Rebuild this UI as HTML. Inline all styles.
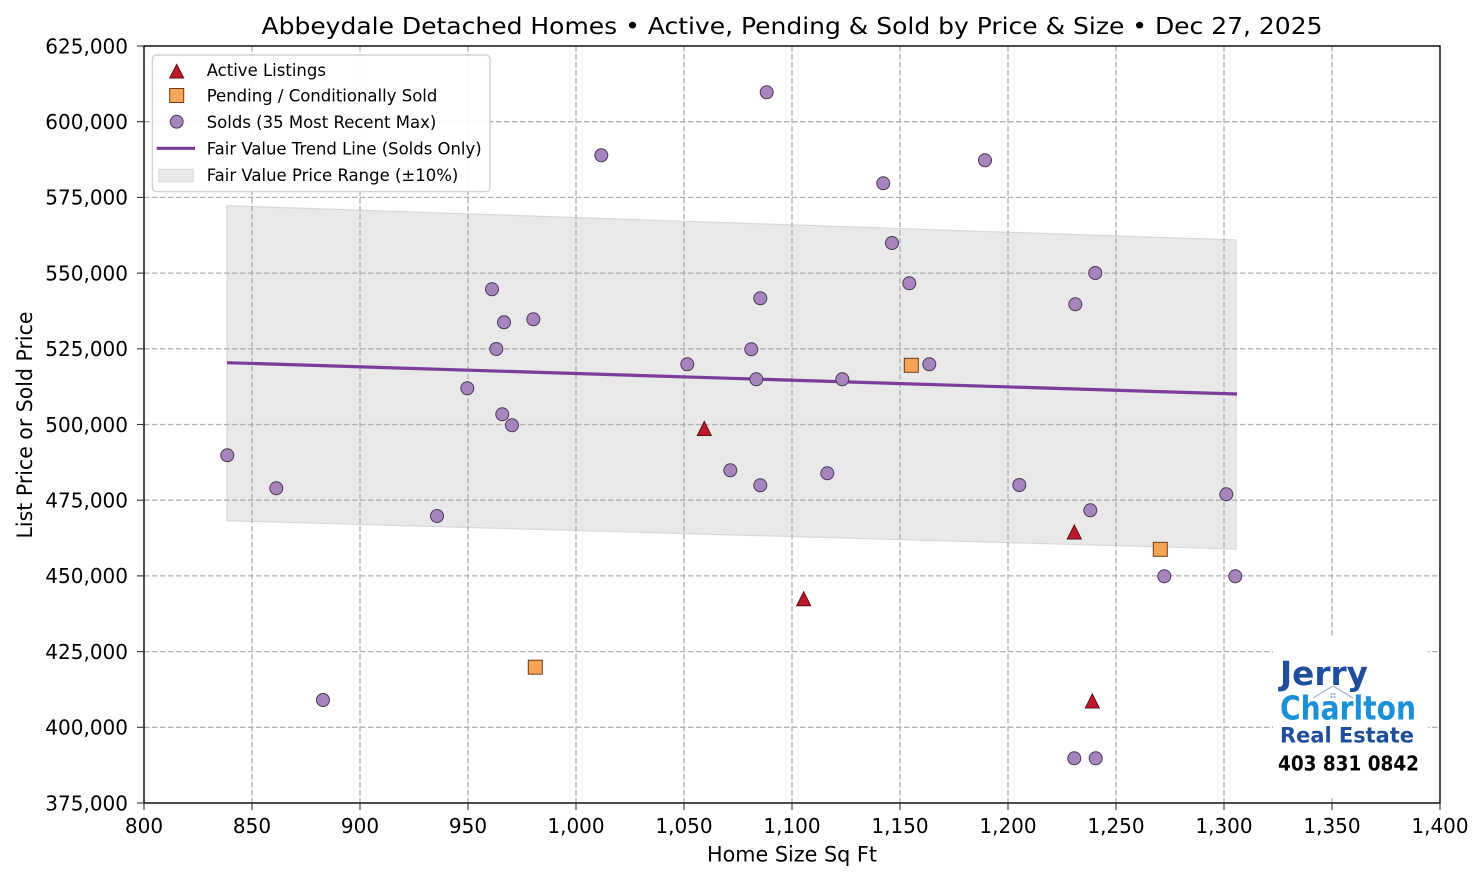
<!DOCTYPE html>
<html><head><meta charset="utf-8"><style>
html,body{margin:0;padding:0;background:#fff;}
svg{display:block;}
text{font-family:"DejaVu Sans","Liberation Sans",sans-serif;}
</style></head><body>
<svg width="1484" height="881" viewBox="0 0 1484 881" xmlns="http://www.w3.org/2000/svg">
<rect x="0" y="0" width="1484" height="881" fill="#fff"/>
<!-- title -->
<text x="792" y="34" font-size="23.5" text-anchor="middle" fill="#000" textLength="1061" lengthAdjust="spacingAndGlyphs">Abbeydale Detached Homes • Active, Pending &amp; Sold by Price &amp; Size • Dec 27, 2025</text>

<!-- band -->
<polygon points="227,205.7 1236,240 1236,549 227,520.7" fill="#e9e9e9" stroke="#d8d8d8" stroke-width="1.2"/>

<!-- grid -->
<g stroke="#b0b0b0" stroke-width="1.3" stroke-dasharray="5.5,2.5" fill="none">
<line x1="252" y1="46" x2="252" y2="803"/>
<line x1="360" y1="46" x2="360" y2="803"/>
<line x1="468" y1="46" x2="468" y2="803"/>
<line x1="576" y1="46" x2="576" y2="803"/>
<line x1="684" y1="46" x2="684" y2="803"/>
<line x1="792" y1="46" x2="792" y2="803"/>
<line x1="900" y1="46" x2="900" y2="803"/>
<line x1="1008" y1="46" x2="1008" y2="803"/>
<line x1="1116" y1="46" x2="1116" y2="803"/>
<line x1="1224" y1="46" x2="1224" y2="803"/>
<line x1="1332" y1="46" x2="1332" y2="803"/>
<line x1="144" y1="121.7" x2="1440" y2="121.7"/>
<line x1="144" y1="197.4" x2="1440" y2="197.4"/>
<line x1="144" y1="273.1" x2="1440" y2="273.1"/>
<line x1="144" y1="348.8" x2="1440" y2="348.8"/>
<line x1="144" y1="424.5" x2="1440" y2="424.5"/>
<line x1="144" y1="500.2" x2="1440" y2="500.2"/>
<line x1="144" y1="575.9" x2="1440" y2="575.9"/>
<line x1="144" y1="651.6" x2="1440" y2="651.6"/>
<line x1="144" y1="727.3" x2="1440" y2="727.3"/>
</g>

<!-- trend line -->
<line x1="227" y1="362.7" x2="1237" y2="394" stroke="#7b3d99" stroke-width="3.2"/>

<!-- solds -->
<g fill="#a684bd" stroke="#4b3a55" stroke-width="1">
<circle cx="227.3" cy="455.3" r="6.5"/>
<circle cx="276.3" cy="488.3" r="6.5"/>
<circle cx="323" cy="700" r="6.5"/>
<circle cx="437" cy="516" r="6.5"/>
<circle cx="467.3" cy="388.3" r="6.5"/>
<circle cx="492" cy="289.3" r="6.5"/>
<circle cx="496.3" cy="349" r="6.5"/>
<circle cx="502.3" cy="414.3" r="6.5"/>
<circle cx="504" cy="322.3" r="6.5"/>
<circle cx="512" cy="425.3" r="6.5"/>
<circle cx="533.3" cy="319.3" r="6.5"/>
<circle cx="601.3" cy="155.3" r="6.5"/>
<circle cx="687.3" cy="364.3" r="6.5"/>
<circle cx="730.3" cy="470.3" r="6.5"/>
<circle cx="751.3" cy="349.3" r="6.5"/>
<circle cx="756.3" cy="379.3" r="6.5"/>
<circle cx="760.3" cy="298.3" r="6.5"/>
<circle cx="760.3" cy="485.3" r="6.5"/>
<circle cx="766.7" cy="92.3" r="6.5"/>
<circle cx="827.3" cy="473.3" r="6.5"/>
<circle cx="842.3" cy="379.3" r="6.5"/>
<circle cx="883.3" cy="183.3" r="6.5"/>
<circle cx="892" cy="243" r="6.5"/>
<circle cx="909.3" cy="283.3" r="6.5"/>
<circle cx="929.3" cy="364.3" r="6.5"/>
<circle cx="985" cy="160.3" r="6.5"/>
<circle cx="1019.3" cy="485" r="6.5"/>
<circle cx="1075.3" cy="304.3" r="6.5"/>
<circle cx="1095.3" cy="273" r="6.5"/>
<circle cx="1090.3" cy="510.3" r="6.5"/>
<circle cx="1074.3" cy="758.3" r="6.5"/>
<circle cx="1095.7" cy="758.3" r="6.5"/>
<circle cx="1164.3" cy="576.3" r="6.5"/>
<circle cx="1226.3" cy="494.3" r="6.5"/>
<circle cx="1235.3" cy="576.3" r="6.5"/>
</g>

<!-- pending -->
<g fill="#f6a556" stroke="#6b3d14" stroke-width="1">
<rect x="528.3" y="660.2" width="14" height="14"/>
<rect x="904.3" y="358.3" width="14" height="14"/>
<rect x="1153.3" y="542.3" width="14" height="14"/>
</g>

<!-- active -->
<g fill="#c0182b" stroke="#5a0f16" stroke-width="1">
<polygon points="704.3,421.5 711.3,435.5 697.3,435.5"/>
<polygon points="803.7,591.7 810.7,605.7 796.7,605.7"/>
<polygon points="1074.3,525 1081.3,539 1067.3,539"/>
<polygon points="1092.3,694 1099.3,708 1085.3,708"/>
</g>

<!-- logo -->
<rect x="1273" y="637" width="155" height="160" fill="#fff"/>
<text x="1280" y="685" font-family="Liberation Sans, sans-serif" font-weight="bold" font-size="33" fill="#1f4e9c" textLength="88" lengthAdjust="spacingAndGlyphs">Jerry</text>
<text x="1280" y="719.3" font-family="Liberation Sans, sans-serif" font-weight="bold" font-size="33" fill="#1b90d6" textLength="136" lengthAdjust="spacingAndGlyphs">Charlton</text>
<polyline points="1313,698 1333,686 1353,698" fill="none" stroke="#a0b8d0" stroke-width="1.2"/>
<rect x="1330.5" y="693" width="2" height="2" fill="#a0b8d0"/><rect x="1333.5" y="693" width="2" height="2" fill="#a0b8d0"/>
<rect x="1330.5" y="696" width="2" height="2" fill="#a0b8d0"/><rect x="1333.5" y="696" width="2" height="2" fill="#a0b8d0"/>
<text x="1280" y="742.7" font-family="Liberation Sans, sans-serif" font-weight="bold" font-size="21.5" fill="#1f4e9c" textLength="134" lengthAdjust="spacingAndGlyphs">Real Estate</text>
<text x="1278" y="770.7" font-family="Liberation Sans, sans-serif" font-weight="bold" font-size="20.5" fill="#000" textLength="141" lengthAdjust="spacingAndGlyphs">403 831 0842</text>

<!-- legend -->
<rect x="152.3" y="55" width="337.7" height="136.7" rx="4" ry="4" fill="#fff" fill-opacity="0.9" stroke="#cccccc" stroke-width="1.2"/>
<polygon points="176.7,64.5 183.7,78 169.7,78" fill="#c0182b" stroke="#5a0f16" stroke-width="1"/>
<rect x="169.7" y="88.5" width="14" height="14" fill="#f6a556" stroke="#6b3d14" stroke-width="1"/>
<circle cx="176.7" cy="121.7" r="6.4" fill="#a684bd" stroke="#4b3a55" stroke-width="1"/>
<line x1="156.7" y1="148.3" x2="195" y2="148.3" stroke="#7b3d99" stroke-width="3.2"/>
<rect x="159" y="169.3" width="34.3" height="12.4" fill="#e9e9e9" stroke="#d8d8d8" stroke-width="1"/>
<g font-size="16.5" fill="#000">
<text x="206.7" y="76">Active Listings</text>
<text x="206.7" y="101.5">Pending / Conditionally Sold</text>
<text x="206.7" y="128">Solds (35 Most Recent Max)</text>
<text x="206.7" y="154.3" textLength="275" lengthAdjust="spacingAndGlyphs">Fair Value Trend Line (Solds Only)</text>
<text x="206.7" y="181">Fair Value Price Range (±10%)</text>
</g>

<!-- spines -->
<rect x="144" y="46" width="1296" height="757" fill="none" stroke="#000" stroke-width="1.4"/>

<!-- ticks -->
<g stroke="#333" stroke-width="1.1">
<line x1="144" y1="803" x2="144" y2="810"/>
<line x1="252" y1="803" x2="252" y2="810"/>
<line x1="360" y1="803" x2="360" y2="810"/>
<line x1="468" y1="803" x2="468" y2="810"/>
<line x1="576" y1="803" x2="576" y2="810"/>
<line x1="684" y1="803" x2="684" y2="810"/>
<line x1="792" y1="803" x2="792" y2="810"/>
<line x1="900" y1="803" x2="900" y2="810"/>
<line x1="1008" y1="803" x2="1008" y2="810"/>
<line x1="1116" y1="803" x2="1116" y2="810"/>
<line x1="1224" y1="803" x2="1224" y2="810"/>
<line x1="1332" y1="803" x2="1332" y2="810"/>
<line x1="1440" y1="803" x2="1440" y2="810"/>
<line x1="137" y1="46" x2="144" y2="46"/>
<line x1="137" y1="121.7" x2="144" y2="121.7"/>
<line x1="137" y1="197.4" x2="144" y2="197.4"/>
<line x1="137" y1="273.1" x2="144" y2="273.1"/>
<line x1="137" y1="348.8" x2="144" y2="348.8"/>
<line x1="137" y1="424.5" x2="144" y2="424.5"/>
<line x1="137" y1="500.2" x2="144" y2="500.2"/>
<line x1="137" y1="575.9" x2="144" y2="575.9"/>
<line x1="137" y1="651.6" x2="144" y2="651.6"/>
<line x1="137" y1="727.3" x2="144" y2="727.3"/>
<line x1="137" y1="803" x2="144" y2="803"/>
</g>

<!-- x tick labels -->
<g font-size="20" fill="#000" text-anchor="middle">
<text x="144" y="833">800</text>
<text x="252" y="833">850</text>
<text x="360" y="833">900</text>
<text x="468" y="833">950</text>
<text x="576" y="833">1,000</text>
<text x="684" y="833">1,050</text>
<text x="792" y="833">1,100</text>
<text x="900" y="833">1,150</text>
<text x="1008" y="833">1,200</text>
<text x="1116" y="833">1,250</text>
<text x="1224" y="833">1,300</text>
<text x="1332" y="833">1,350</text>
<text x="1440" y="833">1,400</text>
</g>
<!-- y tick labels -->
<g font-size="20" fill="#000" text-anchor="end">
<text x="128" y="53.3">625,000</text>
<text x="128" y="129">600,000</text>
<text x="128" y="204.7">575,000</text>
<text x="128" y="280.4">550,000</text>
<text x="128" y="356.1">525,000</text>
<text x="128" y="431.8">500,000</text>
<text x="128" y="507.5">475,000</text>
<text x="128" y="583.2">450,000</text>
<text x="128" y="658.9">425,000</text>
<text x="128" y="734.6">400,000</text>
<text x="128" y="810.3">375,000</text>
</g>

<!-- axis labels -->
<text x="792" y="861.7" font-size="21" text-anchor="middle" fill="#000" textLength="170" lengthAdjust="spacingAndGlyphs">Home Size Sq Ft</text>
<text transform="translate(32,425) rotate(-90)" x="0" y="0" font-size="21" text-anchor="middle" fill="#000" textLength="227" lengthAdjust="spacingAndGlyphs">List Price or Sold Price</text>
</svg>
</body></html>
